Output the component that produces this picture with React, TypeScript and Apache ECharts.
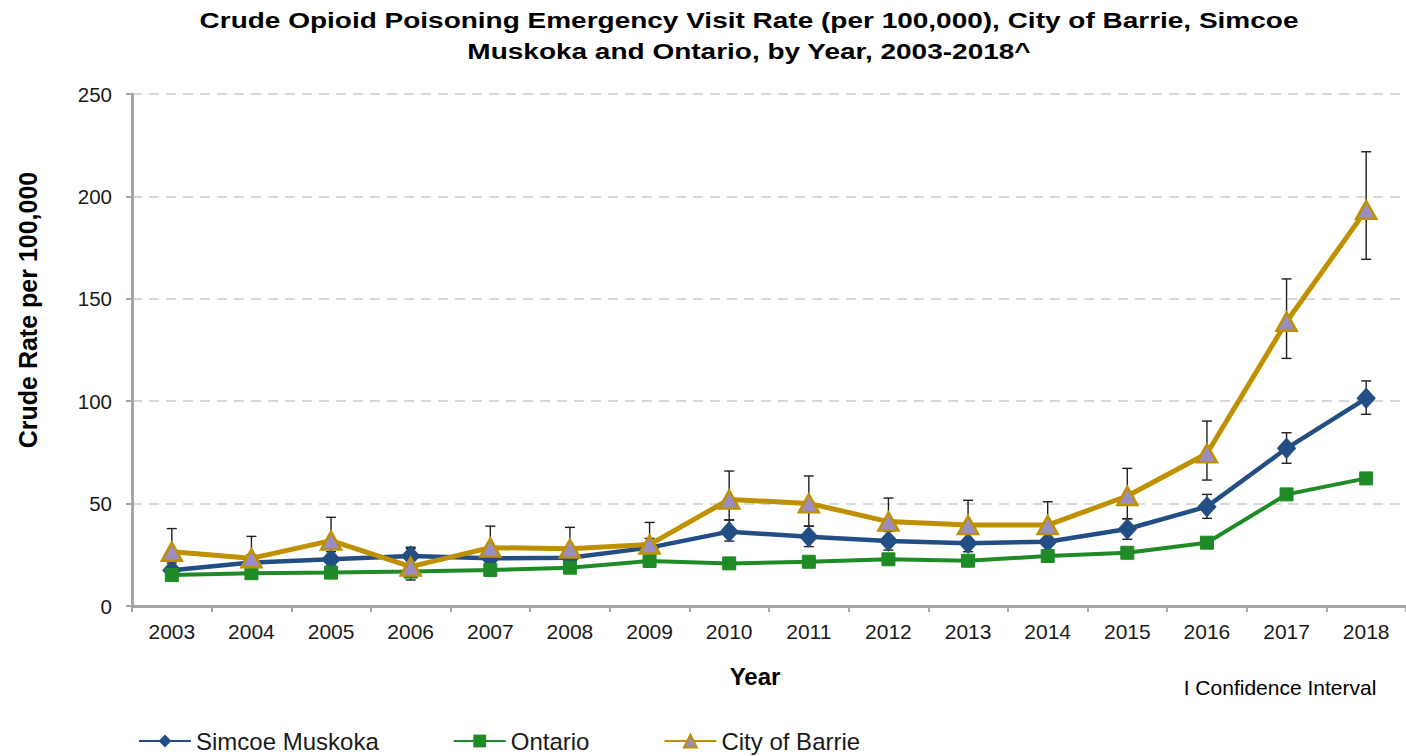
import React, { useEffect, useRef } from "react";
import * as echarts from "echarts";

const years = ["2003","2004","2005","2006","2007","2008","2009","2010","2011","2012","2013","2014","2015","2016","2017","2018"];
const simcoe = [17.5, 21.2, 22.8, 24.4, 23.3, 23.6, 28.5, 36.3, 33.8, 31.7, 30.6, 31.4, 37.6, 48.5, 77.0, 101.4];
const simcoeLow = [14.5, 18.0, 19.5, 20.5, 20.0, 20.3, 25.0, 31.7, 29.0, 27.3, 26.5, 27.3, 32.6, 42.8, 69.7, 93.6];
const simcoeHigh = [21.0, 25.0, 26.5, 28.7, 27.0, 27.2, 33.0, 42.0, 39.0, 36.4, 35.0, 35.8, 42.6, 54.5, 84.6, 109.9];
const ontario = [15.1, 16.0, 16.3, 16.8, 17.6, 18.7, 22.0, 20.8, 21.6, 22.8, 22.1, 24.4, 26.0, 30.9, 54.5, 62.3];
const barrie = [26.5, 23.3, 31.9, 19.2, 28.5, 28.0, 30.0, 52.0, 50.1, 41.2, 39.5, 39.5, 53.7, 74.5, 138.8, 193.4];
const barrieLow = [17.0, 15.0, 22.5, 12.7, 20.0, 19.5, 21.5, 42.0, 39.0, 31.5, 30.0, 30.0, 42.6, 61.5, 120.9, 169.3];
const barrieHigh = [37.8, 34.0, 43.3, 28.0, 39.0, 38.4, 40.8, 65.9, 63.5, 52.7, 51.6, 50.9, 67.2, 90.3, 159.7, 221.8];
const yTicks = [0, 50, 100, 150, 200, 250];

const titleLine1 = "Crude Opioid Poisoning Emergency Visit Rate (per 100,000), City of Barrie, Simcoe";
const titleLine2 = "Muskoka and Ontario, by Year, 2003-2018^";

const FONT = '"Liberation Sans", Arial, sans-serif';
const BLUE = "#234E84";
const GREEN = "#1E8B26";
const GOLD = "#BF9000";
const PURPLE = "#9B8DC2";

function errorSeries(name: string, low: number[], high: number[]) {
  return {
    name,
    type: "custom",
    z: 1,
    silent: true,
    data: low.map((l, i) => [i, l, high[i]]),
    encode: { x: 0, y: [1, 2] },
    renderItem: (params: any, api: any) => {
      const x = api.value(0);
      const pLo = api.coord([x, api.value(1)]);
      const pHi = api.coord([x, api.value(2)]);
      const half = 5;
      const style = { stroke: "#1f1f1f", lineWidth: 1.4 };
      return {
        type: "group",
        children: [
          { type: "line", shape: { x1: pLo[0], y1: pLo[1], x2: pHi[0], y2: pHi[1] }, style },
          { type: "line", shape: { x1: pLo[0] - half, y1: pLo[1], x2: pLo[0] + half, y2: pLo[1] }, style },
          { type: "line", shape: { x1: pHi[0] - half, y1: pHi[1], x2: pHi[0] + half, y2: pHi[1] }, style },
        ],
      };
    },
  };
}

function txt(text: string, x: number, y: number, size: number, bold: boolean, extra: any = {}) {
  return {
    type: "text",
    x,
    y,
    ...extra,
    style: {
      text,
      fill: "#000",
      fontSize: size,
      fontWeight: bold ? "bold" : "normal",
      fontFamily: FONT,
      textAlign: "center",
      align: "center",
      textVerticalAlign: "middle",
      verticalAlign: "middle",
    },
  };
}

export default function App() {
  const ref = useRef<HTMLDivElement>(null);
  useEffect(() => {
    if (!ref.current) return;
    const chart = echarts.init(ref.current, undefined, { renderer: "svg" });
    chart.setOption({
      animation: false,
      backgroundColor: "#fff",
      textStyle: { fontFamily: FONT },
      grid: { left: 132, right: -13, top: 94, bottom: 150, containLabel: false },
      xAxis: {
        type: "category",
        data: years,
        boundaryGap: true,
        axisLine: { lineStyle: { color: "#A6A6A6", width: 3 } },
        axisTick: { show: true, length: 6, lineStyle: { color: "#A6A6A6", width: 2 } },
        axisLabel: { color: "#1a1a1a", fontSize: 21, margin: 15, fontFamily: FONT },
      },
      yAxis: {
        type: "value",
        min: yTicks[0],
        max: yTicks[yTicks.length - 1],
        interval: 50,
        axisLine: { show: true, lineStyle: { color: "#A6A6A6", width: 3 } },
        axisTick: { show: true, length: 6, lineStyle: { color: "#A6A6A6", width: 2 } },
        axisLabel: { color: "#1a1a1a", fontSize: 20.5, margin: 20, fontFamily: FONT },
        splitLine: { show: true, lineStyle: { color: "#D9D9D9", width: 2, type: [10, 7] } },
      },
      legend: {
        data: ["Simcoe Muskoka", "Ontario", "City of Barrie"],
        left: 138,
        top: 728,
        itemWidth: 52,
        itemHeight: 16,
        itemGap: 74,
        padding: 0,
        textStyle: { fontSize: 24, lineHeight: 26, color: "#1a1a1a", fontFamily: FONT },
      },
      graphic: [
        txt(titleLine1, 749, 20, 23, true, { scaleX: 1.217 }),
        txt(titleLine2, 749, 51, 23, true, { scaleX: 1.217 }),
        txt("Crude Rate per 100,000", 28, 310, 25, true, { rotation: Math.PI / 2 }),
        txt("Year", 755, 676, 24, true),
        txt("I Confidence Interval", 1280, 687, 21, false),
      ],
      series: [
        errorSeries("SM CI", simcoeLow, simcoeHigh),
        errorSeries("Barrie CI", barrieLow, barrieHigh),
        {
          name: "Simcoe Muskoka",
          type: "line",
          data: simcoe,
          symbol: "diamond",
          symbolSize: [18, 20],
          lineStyle: { color: BLUE, width: 4.5 },
          itemStyle: { color: BLUE, borderColor: BLUE },
          z: 3,
        },
        {
          name: "Ontario",
          type: "line",
          data: ontario,
          symbol: "rect",
          symbolSize: 13,
          lineStyle: { color: GREEN, width: 4 },
          itemStyle: { color: GREEN, borderColor: GREEN },
          z: 3,
        },
        {
          name: "City of Barrie",
          type: "line",
          data: barrie,
          symbol: "triangle",
          symbolSize: [20, 18],
          lineStyle: { color: GOLD, width: 5 },
          itemStyle: { color: PURPLE, borderColor: GOLD, borderWidth: 2.5 },
          z: 4,
        },
      ],
    });
    return () => chart.dispose();
  }, []);
  return (
    <div
      ref={ref}
      style={{ position: "absolute", left: 0, top: 0, width: 1406, height: 756, background: "#fff" }}
    />
  );
}
